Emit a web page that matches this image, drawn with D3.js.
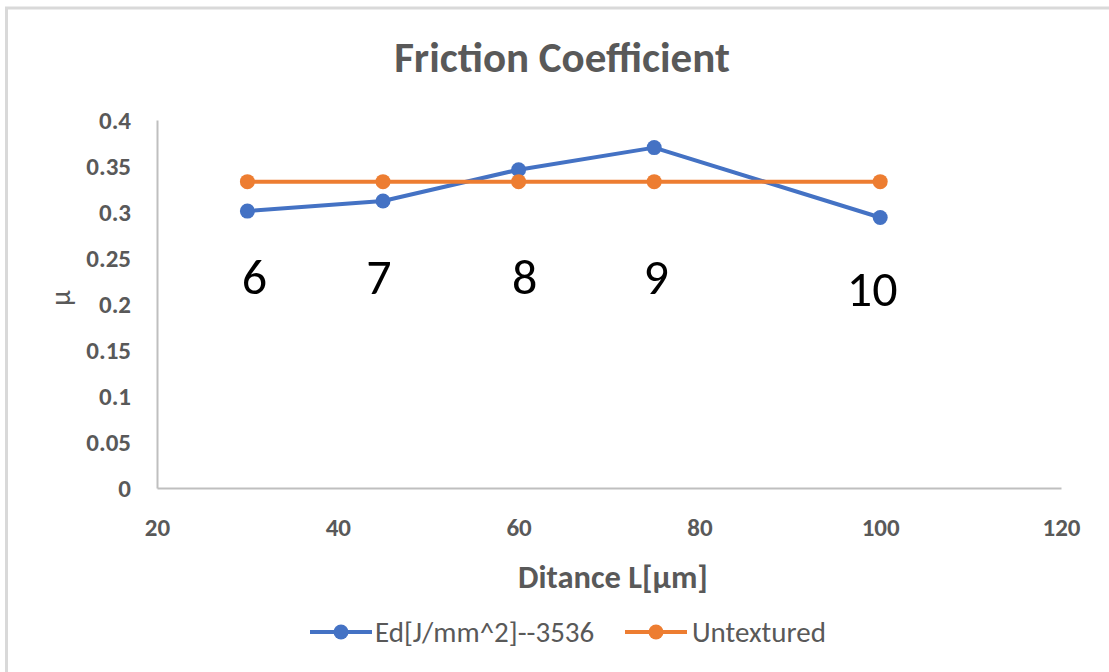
<!DOCTYPE html>
<html>
<head>
<meta charset="utf-8">
<script src="https://cdn.jsdelivr.net/npm/d3@7"></script>
<style>
  html, body { margin: 0; padding: 0; background: #fff; }
  svg { display: block; }
  text { font-family: Carlito, "Open Sans", "Noto Sans", sans-serif; }
</style>
</head>
<body>
<svg id="chart" width="1109" height="672"></svg>
<script>
// Distance between textures (µm)
const distances = [30, 45, 60, 75, 100];
// Friction coefficient, textured surface
const texturedMu = [0.301, 0.312, 0.346, 0.370, 0.294];
// Friction coefficient, untextured reference
const untexturedMu = [0.333, 0.333, 0.333, 0.333, 0.333];
// Sample numbers written next to each point
const sampleLabels = ["6", "7", "8", "9", "10"];
const xTicks = [20, 40, 60, 80, 100, 120];
const yTicks = [0, 0.05, 0.1, 0.15, 0.2, 0.25, 0.3, 0.35, 0.4];

const seriesNames = ["Ed[J/mm^2]--3536", "Untextured"];
const colors = ["#4472C4", "#ED7D31"];

const svg = d3.select("#chart");
const W = 1109, H = 672;

// chart frame
svg.append("path")
  .attr("d", `M6.5,${H} V8 H${W}`)
  .attr("fill", "none")
  .attr("stroke", "#d9d9d9")
  .attr("stroke-width", 3);

const x = d3.scaleLinear().domain([20, 120]).range([157, 1061]);
const y = d3.scaleLinear().domain([0, 0.4]).range([488, 120]);

const tickColor = "#595959";

// axes
const xAxis = svg.append("g")
  .attr("transform", `translate(0,${y(0)})`)
  .call(d3.axisBottom(x).tickValues(xTicks).tickSize(0).tickFormat(d3.format("d")));
const yAxis = svg.append("g")
  .attr("transform", `translate(${x(20)},0)`)
  .call(d3.axisLeft(y).tickValues(yTicks).tickSize(0).tickPadding(26).tickFormat(d => d3.format("")(+d.toFixed(2))));

[xAxis, yAxis].forEach(g => {
  g.select(".domain").attr("stroke", "#bfbfbf").attr("stroke-width", 2);
  g.selectAll("text")
    .attr("fill", tickColor)
    .attr("font-size", 25)
    .attr("font-weight", "bold")
    .attr("dy", "0.35em");
});
xAxis.selectAll("text").attr("y", 39);

// title
svg.append("text")
  .attr("x", 562).attr("y", 72)
  .attr("text-anchor", "middle")
  .attr("font-size", 43)
  .attr("font-weight", "bold")
  .attr("fill", tickColor)
  .text("Friction Coefficient");

// axis titles
svg.append("text")
  .attr("x", 613).attr("y", 588)
  .attr("text-anchor", "middle")
  .attr("font-size", 32.5)
  .attr("font-weight", "bold")
  .attr("fill", tickColor)
  .text("Ditance L[µm]");

svg.append("text")
  .attr("transform", `translate(70,298) rotate(-90)`)
  .attr("text-anchor", "middle")
  .attr("font-size", 28)
  .attr("fill", tickColor)
  .text("µ");

// series
const series = [texturedMu, untexturedMu];
const line = d3.line().x((d, i) => x(distances[i])).y(d => y(d));

series.forEach((vals, s) => {
  svg.append("path")
    .datum(vals)
    .attr("d", line)
    .attr("fill", "none")
    .attr("stroke", colors[s])
    .attr("stroke-width", 4)
    .attr("stroke-linejoin", "round");
  svg.selectAll(null)
    .data(vals)
    .join("circle")
    .attr("cx", (d, i) => x(distances[i]))
    .attr("cy", d => y(d))
    .attr("r", 7.5)
    .attr("fill", colors[s]);
});

// sample numbers
const labelDx = [7, -4, 6, 2, -8];
const labelLevel = [0.211, 0.211, 0.211, 0.211, 0.198];
svg.selectAll(null)
  .data(sampleLabels)
  .join("text")
  .attr("x", (d, i) => x(distances[i]) + labelDx[i])
  .attr("y", (d, i) => y(labelLevel[i]))
  .attr("text-anchor", "middle")
  .attr("font-size", 50)
  .attr("fill", "#000")
  .text(d => d);

// legend
const legendItems = [
  { x0: 310, tx: 375 },
  { x0: 625, tx: 692 }
];
legendItems.forEach((it, s) => {
  const g = svg.append("g");
  g.append("line")
    .attr("x1", it.x0).attr("x2", it.x0 + 62)
    .attr("y1", 632).attr("y2", 632)
    .attr("stroke", colors[s]).attr("stroke-width", 4);
  g.append("circle")
    .attr("cx", it.x0 + 31).attr("cy", 632).attr("r", 7.5)
    .attr("fill", colors[s]);
  g.append("text")
    .attr("x", it.tx).attr("y", 632)
    .attr("dy", "0.35em")
    .attr("font-size", 29)
    .attr("fill", tickColor)
    .text(seriesNames[s]);
});
</script>
</body>
</html>
